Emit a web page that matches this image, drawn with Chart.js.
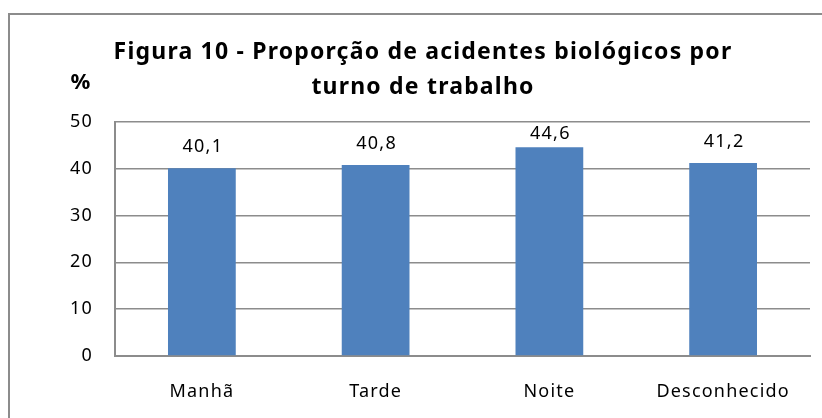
<!DOCTYPE html>
<html>
<head>
<meta charset="utf-8">
<script src="https://cdn.jsdelivr.net/npm/chart.js@4.4.1/dist/chart.umd.min.js"></script>
<style>
    html, body { margin: 0; padding: 0; background: #fff; overflow: hidden; }
    #wrap { position: absolute; left: 0; top: 0; width: 822px; height: 418px; overflow: hidden; }
    #frame {
        position: absolute; left: 8px; top: 13px; width: 830px; height: 420px;
        border-left: 2px solid #8c8c8c; border-top: 2px solid #8c8c8c; pointer-events: none;
    }
</style>
</head>
<body>
<div id="wrap">
    <canvas id="turnoChart" width="822" height="418"></canvas>
    <div id="frame"></div>
</div>
<script>
// Dados do gráfico
const turnos = ['Manhã', 'Tarde', 'Noite', 'Desconhecido'];
const proporcoes = [40.1, 40.8, 44.6, 41.2];
const rotulos = ['40,1', '40,8', '44,6', '41,2'];
const titulo = ['Figura 10 - Proporção de acidentes biológicos por', 'turno de trabalho'];

const FONTE = "'Noto Sans', 'Open Sans', sans-serif";
const CINZA = '#8c8c8c';
const ESPACO = '1.2px'; // espaçamento entre letras, estilo Excel

// Espaçamento de letras em todo o canvas
const espacoPlugin = {
    id: 'espaco',
    beforeUpdate(chart) { chart.ctx.letterSpacing = ESPACO; },
    beforeDraw(chart) { chart.ctx.letterSpacing = ESPACO; }
};

// Rótulos de valor acima das barras + símbolo "%"
const rotulosPlugin = {
    id: 'rotulos',
    afterDatasetsDraw(chart) {
        const { ctx, chartArea } = chart;
        const meta = chart.getDatasetMeta(0);
        ctx.save();
        ctx.letterSpacing = ESPACO;
        ctx.font = "18px " + FONTE;
        ctx.fillStyle = '#000';
        ctx.textAlign = 'center';
        ctx.textBaseline = 'middle';
        meta.data.forEach((bar, i) => {
            const y = Math.max(bar.y - 21, chartArea.top + 12);
            ctx.fillText(rotulos[i], bar.x + 1, y);
        });
        ctx.font = "bold 22px " + FONTE;
        ctx.fillText('%', 81, 83);
        ctx.restore();
    }
};

new Chart(document.getElementById('turnoChart'), {
    type: 'bar',
    data: {
        labels: turnos,
        datasets: [{
            data: proporcoes,
            backgroundColor: '#4f81bd',
            borderWidth: 0,
            categoryPercentage: 1,
            barPercentage: 0.39
        }]
    },
    options: {
        responsive: false,
        animation: false,
        layout: {
            padding: { left: 36, right: 12, top: 0, bottom: 0 }
        },
        plugins: {
            legend: { display: false },
            tooltip: { enabled: false },
            title: {
                display: true,
                text: titulo,
                color: '#000',
                font: { family: FONTE, size: 23, weight: 'bold', lineHeight: 1.52 },
                padding: { top: 35, bottom: 17 }
            }
        },
        scales: {
            x: {
                afterFit(scale) { scale.height = 62; },
                grid: { display: false, drawTicks: false },
                border: { display: true, color: CINZA, width: 2 },
                ticks: {
                    color: '#000',
                    padding: 25,
                    maxRotation: 0,
                    font: { family: FONTE, size: 18 }
                }
            },
            y: {
                min: 0,
                max: 50,
                afterFit(scale) { scale.width = 79; },
                grid: { color: CINZA, lineWidth: 1.5, drawTicks: false },
                border: { display: true, color: CINZA, width: 2 },
                ticks: {
                    stepSize: 10,
                    color: '#000',
                    padding: 22,
                    font: { family: FONTE, size: 18 }
                }
            }
        }
    },
    plugins: [espacoPlugin, rotulosPlugin]
});
</script>
</body>
</html>
